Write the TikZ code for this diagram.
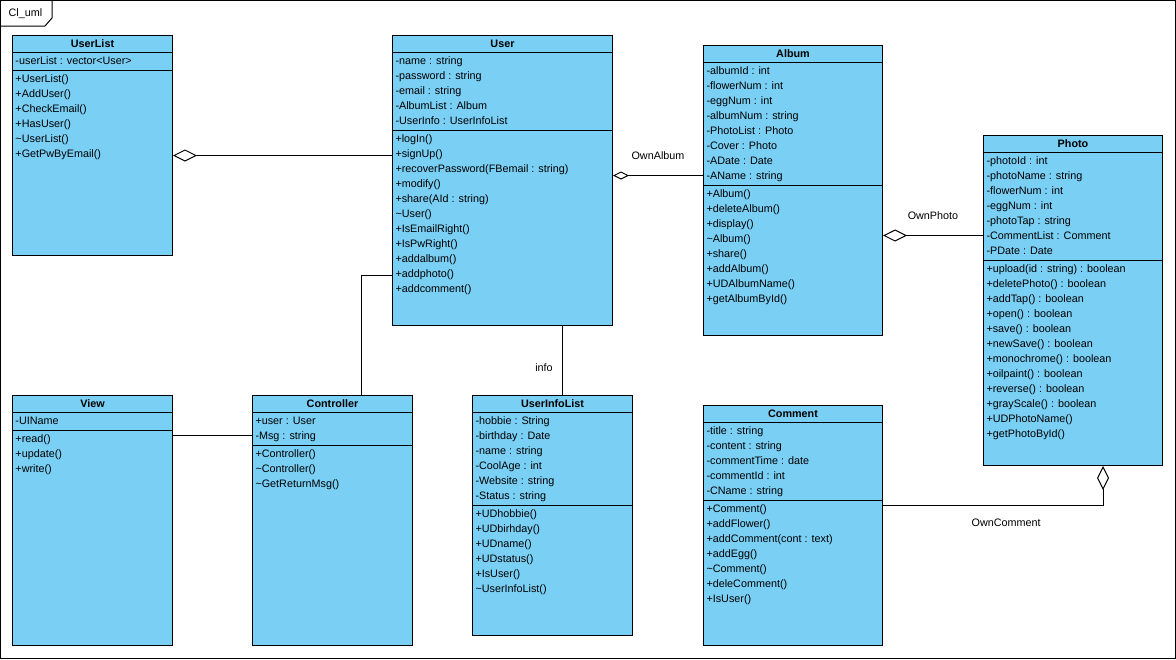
\documentclass[tikz,border=0pt]{standalone}
\usepackage{fontspec}
\setmainfont{Liberation Sans}
\usetikzlibrary{arrows.meta}
\definecolor{classblue}{RGB}{122,207,245}

% one class box: name, position, width, height, title, attributes, operations
\newcommand{\umlclass}[7]{%
  \node[classbox,minimum width=#3,minimum height=#4] (#1) at #2 {};
  \node[classname] at ([yshift=-12.5]#1.north) {#5};
  \coordinate (#1-attr) at ([yshift=-17]#1.north west);
  \draw (#1-attr) -- ++(#3,0);
  \foreach \m [count=\i] in {#6} {\node[member] at ([yshift=-15*\i+2.2]#1-attr) {\m}; \xdef\nattr{\i}}
  \coordinate (#1-op) at ([yshift=-15*\nattr-3]#1-attr);
  \draw (#1-op) -- ++(#3,0);
  \foreach \m [count=\i] in {#7} {\node[member] at ([yshift=-15*\i+2.2]#1-op) {\m};}
}

\begin{document}
\begin{tikzpicture}[x=1pt,y=-1pt,line width=1pt,
 every node/.style={font=\fontsize{10.8}{13}\selectfont},
 classbox/.style={draw,fill=classblue,anchor=north west,inner sep=0},
 classname/.style={anchor=base,inner sep=0,font=\fontsize{10.8}{13}\selectfont\bfseries},
 member/.style={anchor=base west,inner sep=0,xshift=3pt},
 agg/.style={arrows={Diamond[open,length=24pt,width=12pt]-}},
 agg small/.style={arrows={Diamond[open,length=16pt,width=8pt]-}}]
 \useasboundingbox (0,0) rectangle (1176,659);
 \draw (0.5,0.5) rectangle (1175.5,658.5);
 \draw (0.5,26) -- (45,26) -- (52,18) -- (52,0.5);
 \node (framelabel) at (25.5,14) {Cl\_uml};

 \umlclass{UserList}{(12,35)}{160}{220}{UserList}
  {-userList : vector<User>}
  {+UserList(), +AddUser(), +CheckEmail(), +HasUser(), \textasciitilde UserList(), +GetPwByEmail()}
 \umlclass{User}{(392,35)}{220}{290}{User}
  {-name : string, -password : string, -email : string, -AlbumList : Album, -UserInfo : UserInfoList}
  {+logIn(), +signUp(), +recoverPassword(FBemail : string), +modify(), +share(AId : string), \textasciitilde User(), +IsEmailRight(), +IsPwRight(), +addalbum(), +addphoto(), +addcomment()}
 \umlclass{Album}{(703,45)}{179}{290}{Album}
  {-albumId : int, -flowerNum : int, -eggNum : int, -albumNum : string, -PhotoList : Photo, -Cover : Photo, -ADate : Date, -AName : string}
  {+Album(), +deleteAlbum(), +display(), \textasciitilde Album(), +share(), +addAlbum(), +UDAlbumName(), +getAlbumById()}
 \umlclass{Photo}{(983,135)}{179}{330}{Photo}
  {-photoId : int, -photoName : string, -flowerNum : int, -eggNum : int, -photoTap : string, -CommentList : Comment, -PDate : Date}
  {+upload(id : string) : boolean, +deletePhoto() : boolean, +addTap() : boolean, +open() : boolean, +save() : boolean, +newSave() : boolean, +monochrome() : boolean, +oilpaint() : boolean, +reverse() : boolean, +grayScale() : boolean, +UDPhotoName(), +getPhotoById()}
 \umlclass{View}{(12,395)}{160}{250}{View}
  {-UIName}
  {+read(), +update(), +write()}
 \umlclass{Controller}{(252,395)}{160}{250}{Controller}
  {+user : User, -Msg : string}
  {+Controller(), \textasciitilde Controller(), \textasciitilde GetReturnMsg()}
 \umlclass{UserInfoList}{(472,395)}{160}{240}{UserInfoList}
  {-hobbie : String, -birthday : Date, -name : string, -CoolAge : int, -Website : string, -Status : string}
  {+UDhobbie(), +UDbirhday(), +UDname(), +UDstatus(), +IsUser(), \textasciitilde UserInfoList()}
 \umlclass{Comment}{(703,405)}{179}{240}{Comment}
  {-title : string, -content : string, -commentTime : date, -commentId : int, -CName : string}
  {+Comment(), +addFlower(), +addComment(cont : text), +addEgg(), \textasciitilde Comment(), +deleComment(), +IsUser()}

 % associations
 \coordinate (ul) at ([yshift=-10]UserList.east);
 \draw[agg] (ul) -- (ul -| User.west);
 \coordinate (ownalbum) at ([yshift=5]User.east);
 \draw[agg small] (ownalbum) -- (ownalbum -| Album.west) node[midway,above=12pt] {OwnAlbum};
 \coordinate (ownphoto) at ([yshift=-45]Album.east);
 \draw[agg] (ownphoto) -- (ownphoto -| Photo.west) node[midway,above=12pt] {OwnPhoto};
 \coordinate (owncomment) at ([xshift=30]Photo.south);
 \draw[agg] (owncomment) |- ([yshift=20]Comment.east) node[pos=0.72,below=10pt] {OwnComment};
 \coordinate (info) at ([xshift=60]User.south);
 \draw (info) -- (info |- UserInfoList.north) node[pos=0.6,left=6pt] {info};
 \coordinate (ctrl) at ([yshift=-95]User.west);
 \draw (ctrl) -| ([xshift=29]Controller.north);
 \coordinate (vw) at ([yshift=85]View.east);
 \draw (vw) -- (vw -| Controller.west);
\end{tikzpicture}
\end{document}
